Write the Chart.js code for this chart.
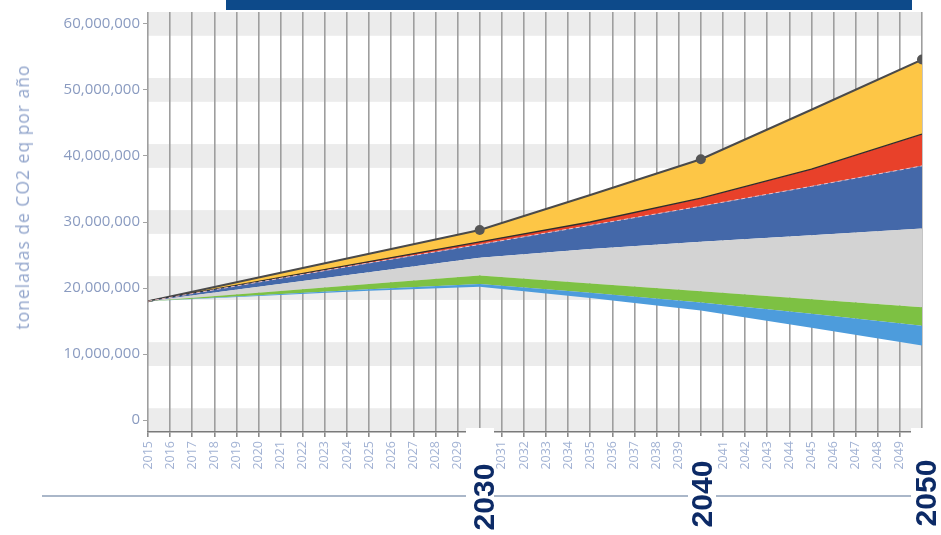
<!DOCTYPE html>
<html><head><meta charset="utf-8">
<script src="https://cdn.jsdelivr.net/npm/chart.js@4"></script>
<style>
html,body{margin:0;padding:0;background:#fff;width:941px;height:535px;overflow:hidden;}
#wrap{position:relative;width:941px;height:535px;}
#c{position:absolute;left:0;top:0;}
.bar{position:absolute;left:226px;top:0;width:686px;height:10px;background:#0d4a8a;}
.rule{position:absolute;left:42px;top:495px;width:880px;height:2px;background:#aab7c9;}
.box{position:absolute;background:#fff;}
.rot{position:absolute;transform:translate(-50%,-50%) rotate(-90deg);white-space:nowrap;}
.big{font-family:"Liberation Sans",Arial,sans-serif;font-weight:bold;font-size:30px;color:#0c2a66;}
.ytitle{font-family:"Open Sans",sans-serif;font-size:17.5px;color:#93a6cc;letter-spacing:1px;}
</style></head>
<body><div id="wrap">
<canvas id="c" width="941" height="535"></canvas>
<div class="bar"></div>
<div class="rule"></div>
<div class="box" style="left:466px;top:428px;width:28px;height:107px"></div>
<div class="box" style="left:688px;top:436px;width:28px;height:99px"></div>
<div class="box" style="left:911px;top:428px;width:30px;height:107px"></div>
<div class="rot big" style="left:484px;top:497px">2030</div>
<div class="rot big" style="left:702px;top:494px">2040</div>
<div class="rot big" style="left:926px;top:493px">2050</div>
<div class="rot ytitle" style="left:22px;top:197px">toneladas de CO2 eq por año</div>
</div>
<script>
// Years (x positions of the boundary readings)
const years = [2015, 2020, 2025, 2030, 2035, 2040, 2045, 2050];
// Boundary lines of the stacked wedges (tonnes CO2 eq per year)
const bauTop      = [18000000, 21600000, 25200000, 28800000, 34100000, 39500000, 47000000, 54600000];
const yellowBase  = [18000000, 21000000, 24000000, 27000000, 30000000, 33600000, 38000000, 43300000];
const redBase     = [18000000, 20900000, 23800000, 26600000, 29500000, 32400000, 35400000, 38500000];
const blueBase    = [18000000, 20200000, 22400000, 24600000, 25900000, 27000000, 28000000, 29000000];
const greyBase    = [18000000, 19300000, 20600000, 21900000, 20700000, 19500000, 18300000, 17100000];
const greenBase   = [18000000, 18900000, 19800000, 20600000, 19300000, 17800000, 16100000, 14300000];
const lightBase   = [18000000, 18800000, 19600000, 20200000, 18500000, 16600000, 14000000, 11300000];
const markerYears = [2030, 2040, 2050];
const bigYears = [2030, 2040, 2050];
const yTicks = [0, 10000000, 20000000, 30000000, 40000000, 50000000, 60000000];

const pts = arr => years.map((x, i) => ({x: x, y: arr[i]}));

const bandPlugin = {
  id: 'bands',
  beforeDraw(chart) {
    const {ctx, chartArea: a, scales: {y}} = chart;
    ctx.save();
    ctx.fillStyle = '#ececec';
    yTicks.forEach(v => {
      const t = Math.max(y.getPixelForValue(v + 1800000), a.top);
      const b = Math.min(y.getPixelForValue(v - 1800000), a.bottom);
      ctx.fillRect(a.left, t, a.right - a.left, b - t);
    });
    ctx.restore();
  }
};

const base = {pointRadius: 0, borderWidth: 0, tension: 0, borderColor: 'rgba(0,0,0,0)'};

new Chart(document.getElementById('c'), {
  type: 'line',
  data: {
    datasets: [
      Object.assign({}, base, {label: 'base', data: pts(lightBase), fill: false}),
      Object.assign({}, base, {label: 'azul claro', data: pts(greenBase), fill: '-1', backgroundColor: '#4d9cdc'}),
      Object.assign({}, base, {label: 'verde', data: pts(greyBase), fill: '-1', backgroundColor: '#7dc143'}),
      Object.assign({}, base, {label: 'gris', data: pts(blueBase), fill: '-1', backgroundColor: '#d3d3d3'}),
      Object.assign({}, base, {label: 'azul', data: pts(redBase), fill: '-1', backgroundColor: '#4468a9',
        borderWidth: 1, borderColor: 'rgba(255,200,200,0.85)', borderDash: [4, 3]}),
      Object.assign({}, base, {label: 'rojo', data: pts(yellowBase), fill: '-1', backgroundColor: '#e8412a',
        borderWidth: 1.3, borderColor: '#2e2e2e'}),
      Object.assign({}, base, {label: 'amarillo', data: pts(bauTop), fill: '-1', backgroundColor: '#fdc646',
        borderWidth: 2, borderColor: '#4a4a4a',
        pointRadius: ctx => markerYears.includes(years[ctx.dataIndex]) ? 5 : 0,
        pointBackgroundColor: '#555', pointBorderColor: '#555', pointBorderWidth: 0})
    ]
  },
  options: {
    responsive: false,
    animation: false,
    devicePixelRatio: 1,
    layout: {padding: {top: 10, right: 14, left: 0, bottom: 0}},
    plugins: {legend: {display: false}, tooltip: {enabled: false}},
    elements: {line: {fill: false}},
    scales: {
      x: {
        type: 'linear', min: 2015, max: 2050,
        afterFit: s => { s.height = 103; },
        grid: {color: '#9e9e9e', lineWidth: 1.6, tickLength: 5, tickColor: '#8a8a8a'},
        border: {color: '#7a7a7a', width: 1.5},
        ticks: {
          stepSize: 1, autoSkip: false, minRotation: 90, maxRotation: 90, padding: 4,
          color: '#a3b3d4', font: {family: '"Open Sans", sans-serif', size: 12.5},
          callback: v => bigYears.includes(v) ? '' : String(v)
        }
      },
      y: {
        min: -1800000, max: 61800000,
        afterFit: s => { s.width = 148; },
        afterBuildTicks: s => { s.ticks = yTicks.map(v => ({value: v})); },
        grid: {drawOnChartArea: false, tickLength: 5, tickColor: '#a3a3a3'},
        border: {display: false},
        ticks: {
          padding: 3,
          color: '#8a9bc0', font: {family: '"Open Sans", sans-serif', size: 15},
          callback: v => v.toLocaleString('en-US')
        }
      }
    }
  },
  plugins: [bandPlugin]
});
</script>
</body></html>
